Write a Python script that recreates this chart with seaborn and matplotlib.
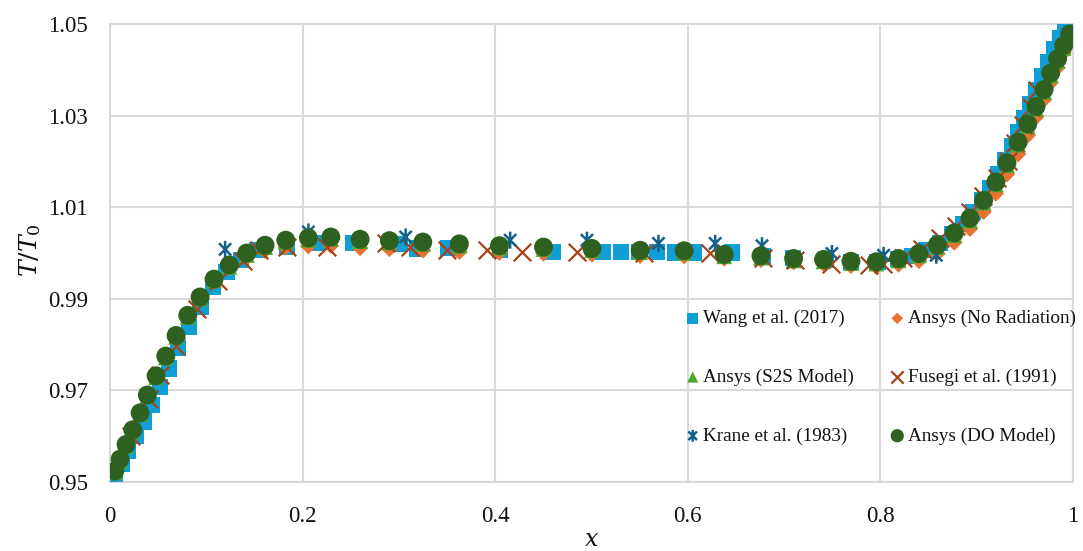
import numpy as np
import pandas as pd
import matplotlib
matplotlib.use("Agg")
import matplotlib.pyplot as plt
from matplotlib.path import Path
import seaborn as sns

# ---------------- data ----------------
ansys_x = [0.005, 0.0104, 0.0166, 0.0236, 0.0312, 0.0387, 0.0478, 0.0579, 0.0686, 0.0807,
           0.0935, 0.1080, 0.1239, 0.1420, 0.1610, 0.1825, 0.2060, 0.2293, 0.2597, 0.2901,
           0.3248, 0.3628, 0.4044, 0.4501, 0.5004, 0.5505, 0.5962, 0.6378, 0.6759, 0.7098,
           0.7409, 0.7694, 0.7957, 0.8188, 0.8400, 0.8591, 0.8767, 0.8930, 0.9071, 0.9198,
           0.9314, 0.9430, 0.9530, 0.9616, 0.9699, 0.9768, 0.9839, 0.9902, 0.9965]

do_y = [0.9524, 0.9550, 0.9582, 0.9614, 0.9651, 0.9690, 0.9732, 0.9775, 0.9820, 0.9864,
        0.9904, 0.9943, 0.9974, 1.0000, 1.0017, 1.0028, 1.0033, 1.0035, 1.0030, 1.0027,
        1.0024, 1.0020, 1.0016, 1.0013, 1.0010, 1.0006, 1.0005, 0.9997, 0.9994, 0.9988,
        0.9986, 0.9982, 0.9981, 0.9988, 0.9999, 1.0018, 1.0044, 1.0076, 1.0115, 1.0155,
        1.0197, 1.0242, 1.0282, 1.0320, 1.0357, 1.0393, 1.0424, 1.0453, 1.0478]

s2s_y = [0.9521, 0.9547, 0.9579, 0.9611, 0.9648, 0.9687, 0.9729, 0.9772, 0.9817, 0.9861,
         0.9901, 0.9940, 0.9970, 0.9996, 1.0013, 1.0024, 1.0029, 1.0031, 1.0026, 1.0023,
         1.0020, 1.0016, 1.0012, 1.0009, 1.0006, 1.0002, 1.0001, 0.9993, 0.9990, 0.9984,
         0.9982, 0.9978, 0.9977, 0.9984, 0.9995, 1.0013, 1.0039, 1.0071, 1.0110, 1.0150,
         1.0192, 1.0237, 1.0277, 1.0315, 1.0352, 1.0388, 1.0419, 1.0448, 1.0473]

norad_y = [0.9522, 0.9548, 0.9579, 0.9611, 0.9648, 0.9687, 0.9729, 0.9772, 0.9817, 0.9861,
           0.9900, 0.9938, 0.9968, 0.9990, 1.0005, 1.0012, 1.0015, 1.0016, 1.0011, 1.0009,
           1.0006, 1.0003, 1.0001, 0.9999, 0.9997, 0.9994, 0.9993, 0.9988, 0.9985, 0.9980,
           0.9977, 0.9972, 0.9970, 0.9975, 0.9983, 0.9999, 1.0023, 1.0053, 1.0090, 1.0130,
           1.0172, 1.0216, 1.0257, 1.0297, 1.0335, 1.0372, 1.0405, 1.0437, 1.0465]

wang_x = [0.005, 0.012, 0.019, 0.027, 0.035, 0.043, 0.052, 0.061, 0.071, 0.082,
          0.094, 0.107, 0.121, 0.136, 0.153, 0.184, 0.215, 0.252, 0.301, 0.319,
          0.351, 0.405, 0.460, 0.512, 0.531, 0.549, 0.568, 0.587, 0.606, 0.646,
          0.678, 0.709, 0.743, 0.769, 0.797, 0.8185, 0.8331, 0.8476, 0.8622, 0.8746,
          0.8860, 0.8964, 0.9058, 0.9141, 0.9224, 0.9297, 0.9369, 0.9432, 0.9494, 0.9556,
          0.9619, 0.9681, 0.9743, 0.9806, 0.9868, 0.9917]
wang_y = [0.9515, 0.9540, 0.9568, 0.9600, 0.9632, 0.9668, 0.9707, 0.9748, 0.9792, 0.9838,
          0.9883, 0.9925, 0.9958, 0.9985, 1.0006, 1.0013, 1.0021, 1.0022, 1.0020, 1.0010,
          1.0011, 1.0006, 1.0003, 1.0003, 1.0003, 1.0002, 1.0002, 1.0001, 1.0001, 1.0001,
          0.9993, 0.9989, 0.9984, 0.9981, 0.9981, 0.9986, 0.9993, 1.0006, 1.0022, 1.0041,
          1.0063, 1.0089, 1.0115, 1.0142, 1.0172, 1.0203, 1.0233, 1.0264, 1.0295, 1.0325,
          1.0356, 1.0386, 1.0417, 1.0445, 1.0470, 1.0486]

fusegi_x = [0.022, 0.040, 0.052, 0.068, 0.090, 0.112, 0.138, 0.155, 0.184, 0.225,
            0.287, 0.311, 0.350, 0.391, 0.428, 0.485, 0.554, 0.623, 0.678, 0.711,
            0.749, 0.788, 0.803, 0.823, 0.843, 0.862, 0.878, 0.893, 0.907, 0.921,
            0.932, 0.940, 0.948, 0.956, 0.963]
fusegi_y = [0.9600, 0.9682, 0.9733, 0.9798, 0.9877, 0.9938, 0.9983, 1.0006, 1.0013, 1.0013,
            1.0021, 1.0013, 1.0006, 1.0006, 1.0003, 1.0003, 1.0000, 1.0000, 0.9990, 0.9985,
            0.9975, 0.9973, 0.9977, 0.9990, 1.0008, 1.0033, 1.0060, 1.0090, 1.0125, 1.0163,
            1.0200, 1.0240, 1.0280, 1.0318, 1.0356]

krane_x = [0.1195, 0.206, 0.307, 0.4155, 0.4952, 0.5695, 0.6284, 0.677, 0.7496, 0.8033, 0.858]
krane_y = [1.0008, 1.0046, 1.0035, 1.0028, 1.0028, 1.0021, 1.0021, 1.0016, 0.9999, 0.9995, 0.9995]

y_ticks = [0.95, 0.97, 0.99, 1.01, 1.03, 1.05]
x_ticks = [0, 0.2, 0.4, 0.6, 0.8, 1.0]
x_tick_labels = ["0", "0.2", "0.4", "0.6", "0.8", "1"]

labels = ["Wang et al. (2017)", "Ansys (No Radiation)", "Ansys (S2S Model)",
          "Fusegi et al. (1991)", "Krane et al. (1983)", "Ansys (DO Model)"]

# ---------------- style ----------------
sns.set_theme(style="white")
plt.rcParams['font.family'] = ['Liberation Serif', 'DejaVu Serif']
plt.rcParams['mathtext.fontset'] = 'dejavuserif'

fig, ax = plt.subplots(figsize=(10.83, 5.51), dpi=100)
fig.subplots_adjust(left=0.1016, right=0.9908, bottom=0.1252, top=0.9564)

grid_col = '#D9D9D9'
ax.set_axisbelow(True)
ax.grid(True, color=grid_col, linewidth=1.5)
for s in ax.spines.values():
    s.set_color(grid_col)
    s.set_linewidth(1.5)

asterisk = Path([(0, -0.5), (0, 0.5), (-0.36, -0.36), (0.36, 0.36), (-0.36, 0.36), (0.36, -0.36)],
                [Path.MOVETO, Path.LINETO, Path.MOVETO, Path.LINETO, Path.MOVETO, Path.LINETO])

c_wang = '#0F9ED5'
c_norad = '#E97132'
c_s2s = '#4EA72E'
c_fus = '#A4441B'
c_kr = '#15608A'
c_do = '#2E6120'

sns.scatterplot(x=wang_x, y=wang_y, marker='s', s=135, color=c_wang, edgecolor='none',
                label=labels[0], ax=ax, zorder=3)
sns.scatterplot(x=ansys_x, y=norad_y, marker='D', s=70, color=c_norad, edgecolor='none',
                label=labels[1], ax=ax, zorder=4)
sns.scatterplot(x=ansys_x, y=s2s_y, marker='^', s=130, color=c_s2s, edgecolor='none',
                label=labels[2], ax=ax, zorder=5)
sns.scatterplot(x=fusegi_x, y=fusegi_y, marker='x', s=160, color=c_fus, linewidth=1.6,
                label=labels[3], ax=ax, zorder=6)
sns.scatterplot(x=krane_x, y=krane_y, marker=asterisk, s=150, facecolor='none', edgecolor=c_kr,
                linewidth=1.8, label=labels[4], ax=ax, zorder=7)
sns.scatterplot(x=ansys_x, y=do_y, marker='o', s=185, color=c_do, edgecolor='none',
                label=labels[5], ax=ax, zorder=8)

ax.set_xlim(0, 1)
ax.set_ylim(0.95, 1.05)
ax.set_yticks(y_ticks)
ax.set_yticklabels([f"{v:.2f}" for v in y_ticks])
ax.set_xticks(x_ticks)
ax.set_xticklabels(x_tick_labels)
ax.tick_params(axis='both', length=0, labelsize=16.5, colors='#111111')
ax.tick_params(axis='y', pad=16)
ax.tick_params(axis='x', pad=17)

ax.set_xlabel('$x$', fontsize=17, color='#111111')
ax.xaxis.set_label_coords(0.5, -0.128)
ax.xaxis.label.set_va('center')
ax.set_ylabel('$T/T_0$', fontsize=18, color='#111111')
ax.yaxis.set_label_coords(-0.083, 0.507)
ax.yaxis.label.set_va('center')

handles, labs = ax.get_legend_handles_labels()
order = [0, 2, 4, 1, 3, 5]
leg = ax.legend([handles[i] for i in order], [labs[i] for i in order],
                ncol=2, frameon=False, fontsize=13.8, markerscale=0.7,
                handlelength=0.7, handletextpad=0.2, labelspacing=2.15,
                columnspacing=1.9, borderpad=0, borderaxespad=0,
                loc='upper left', bbox_to_anchor=(686 / 1083, 1 - 310 / 551),
                bbox_transform=fig.transFigure)
for t in leg.get_texts():
    t.set_color('#111111')

fig.savefig("out.png", dpi=100)
